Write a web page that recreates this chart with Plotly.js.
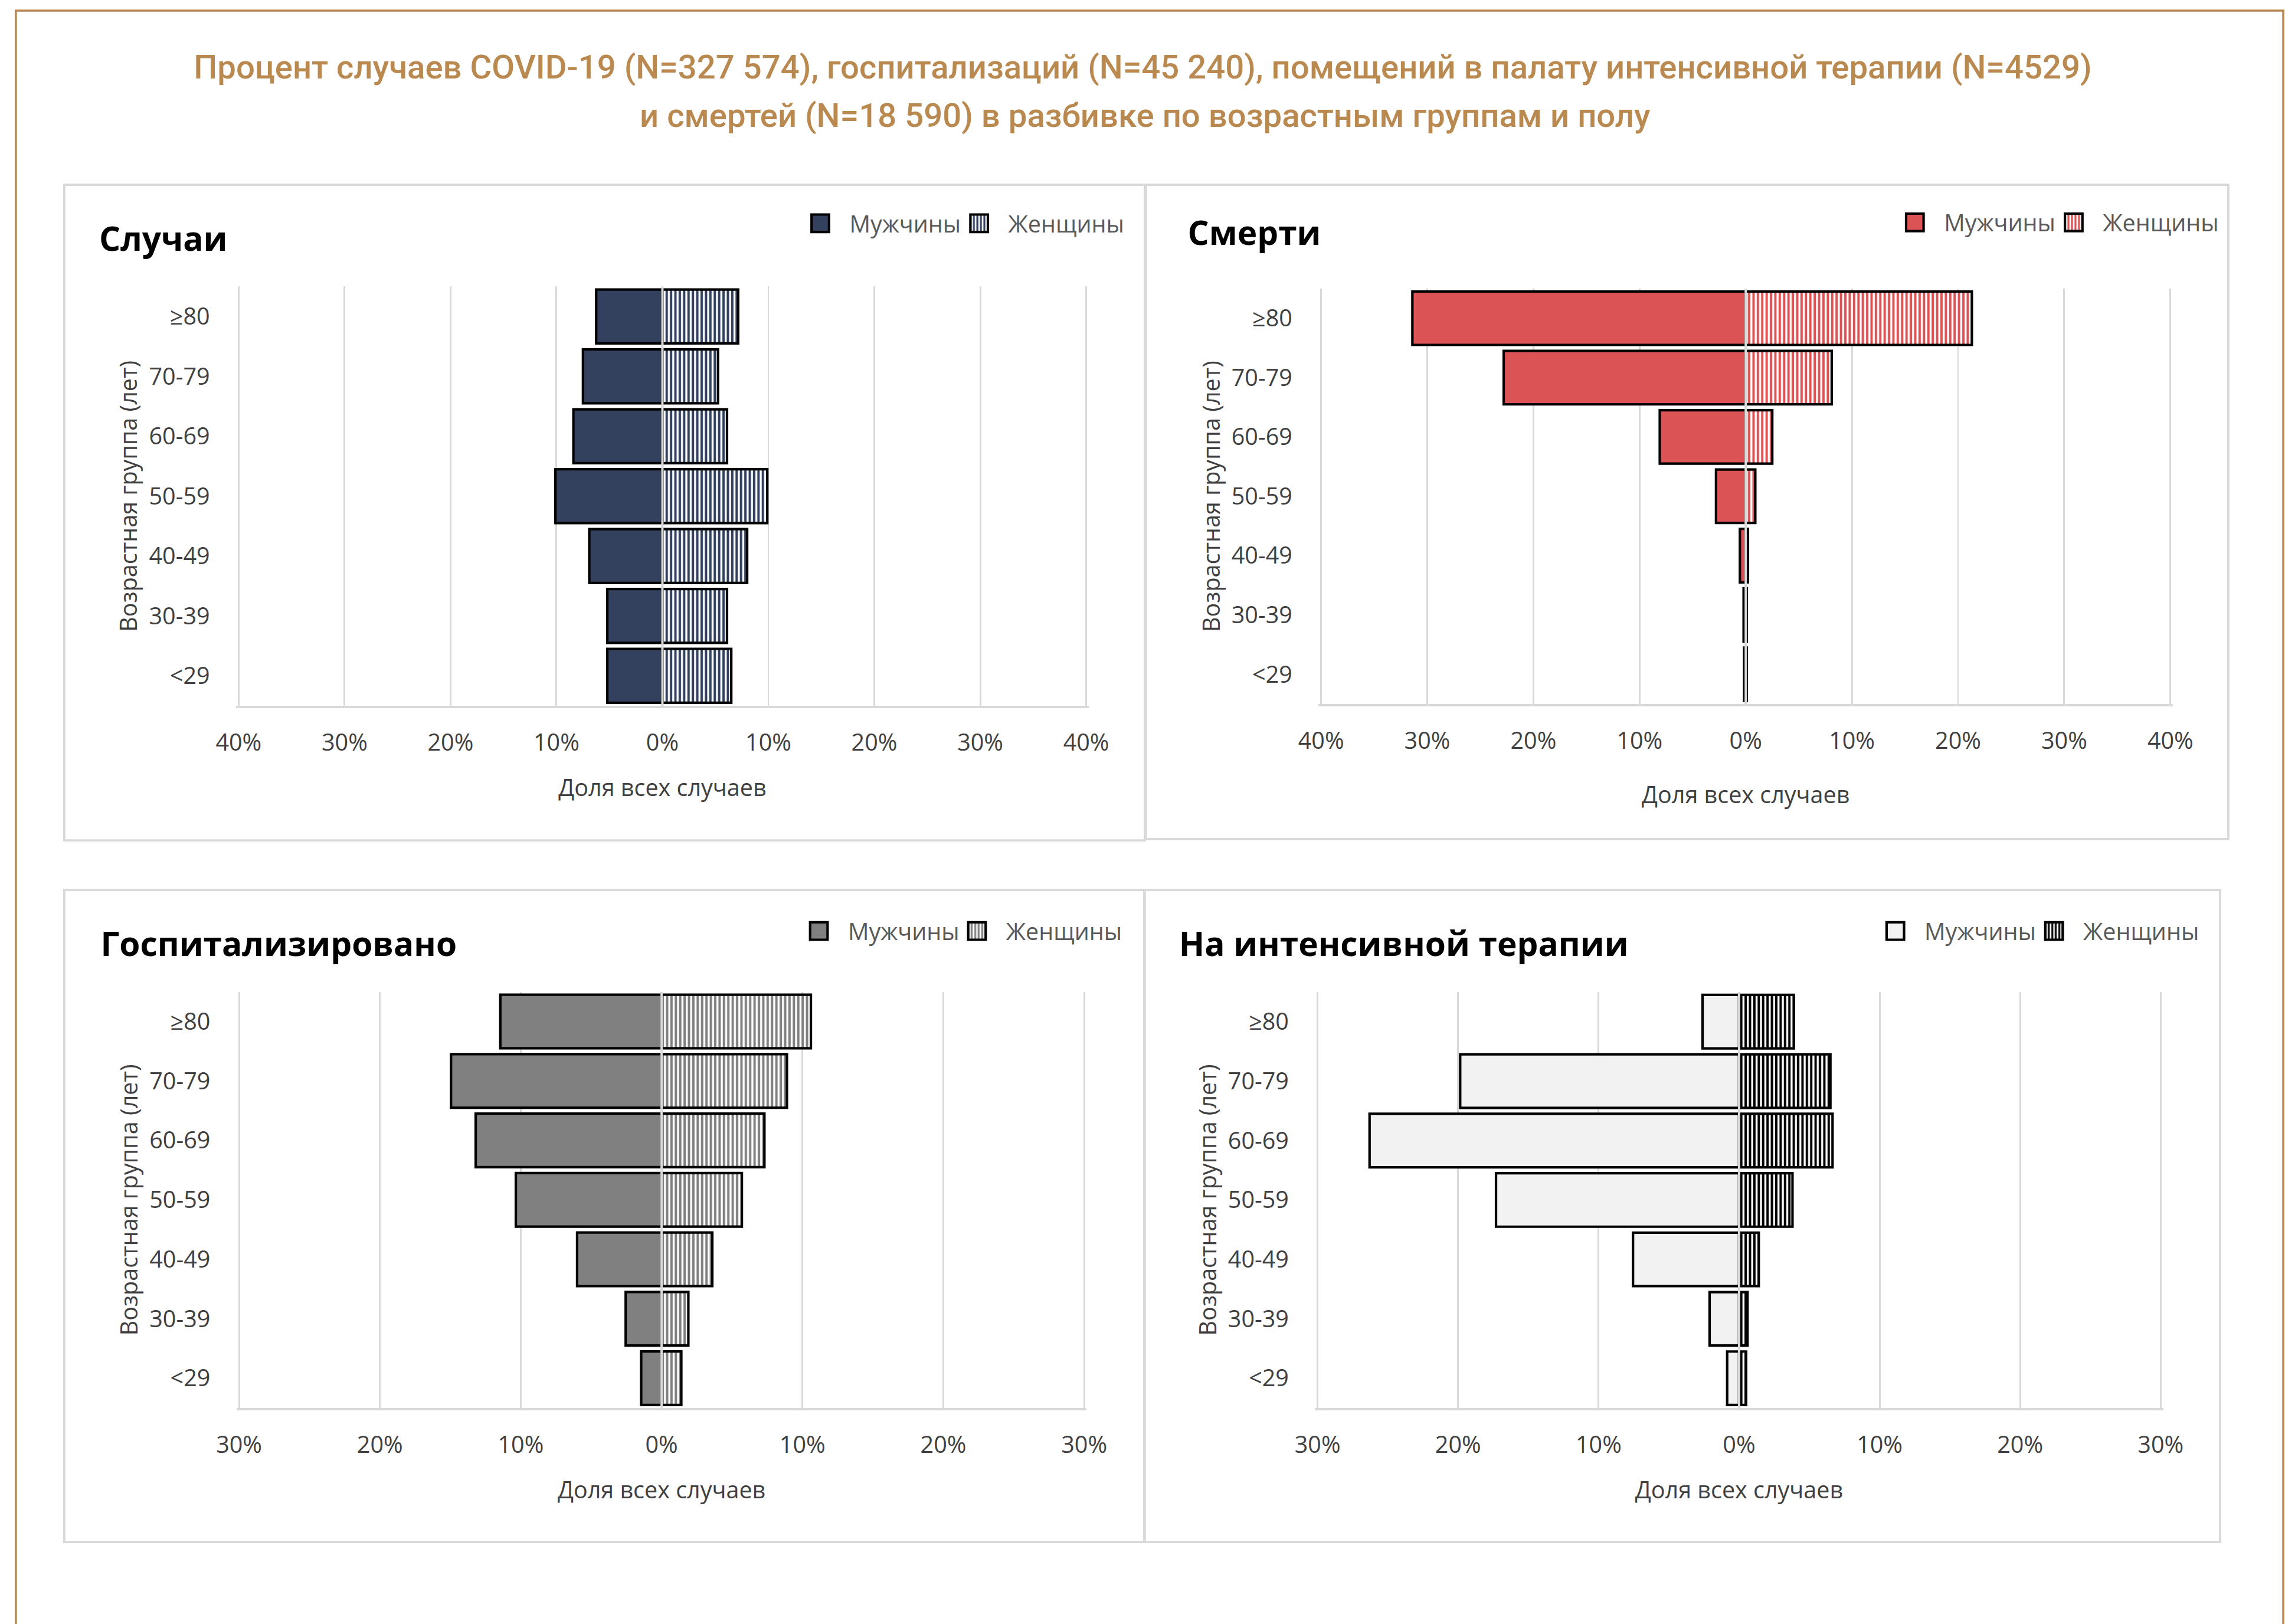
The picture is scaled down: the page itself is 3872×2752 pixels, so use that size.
<!DOCTYPE html>
<html>
<head>
<meta charset="utf-8">
<script src="https://cdn.plot.ly/plotly-3.0.1.min.js"></script>
<style>
  html, body { margin: 0; padding: 0; background: #ffffff; overflow: hidden; }
  #wrap { width: 3872px; height: 2752px; overflow: hidden; position: relative; }
  #chart { width: 1568px; height: 1115px; transform: scale(2.469388); transform-origin: 0 0; }
</style>
</head>
<body>
<div id="wrap"><div id="chart"></div></div>
<script>
// ---------- data (percent of all cases in each outcome) ----------
const ageGroups = ['<29', '30-39', '40-49', '50-59', '60-69', '70-79', '≥80'];

const casesMen     = [5.2, 5.2, 6.9, 10.1, 8.4, 7.5, 6.25];
const casesWomen   = [6.5, 6.1, 8.0, 9.9, 6.1, 5.25, 7.15];

const deathsMen    = [0.15, 0.2, 0.55, 2.8, 8.1, 22.8, 31.4];
const deathsWomen  = [0.1, 0.1, 0.2, 0.9, 2.5, 8.1, 21.3];

const hospMen      = [1.45, 2.55, 6.0, 10.35, 13.2, 14.95, 11.45];
const hospWomen    = [1.4, 1.9, 3.6, 5.7, 7.3, 8.9, 10.6];

const icuMen       = [0.85, 2.1, 7.55, 17.3, 26.3, 19.85, 2.6];
const icuWomen     = [0.5, 0.6, 1.4, 3.8, 6.65, 6.5, 3.9];

const ticks40 = [-40, -30, -20, -10, 0, 10, 20, 30, 40];
const ticks30 = [-30, -20, -10, 0, 10, 20, 30];
const tickText = v => Math.abs(v) + '%';

const mainTitle1 = 'Процент случаев COVID-19 (N=327 574), госпитализаций (N=45 240), помещений в палату интенсивной терапии (N=4529)';
const mainTitle2 = 'и смертей (N=18 590) в разбивке по возрастным группам и полу';
const panelTitles = ['Случаи', 'Смерти', 'Госпитализировано', 'На интенсивной терапии'];
const menLabel = 'Мужчины';
const womenLabel = 'Женщины';
const xTitle = 'Доля всех случаев';
const yTitle = 'Возрастная группа (лет)';

// ---------- layout geometry (logical px, 1568 x 1115) ----------
const W = 1568, H = 1115;
const px = v => v / W;
const py = v => 1 - v / H;

const panels = [
  { men: casesMen,  women: casesWomen,  mc: '#33415E', wc: '#33415E', ticks: ticks40,
    plot: [162.0, 747.1, 196.6, 484.3], box: [44.1, 785.6, 126.8, 576.7],
    title: [65.6, 163.0], legendX: [542.9, 651.9], legendY: 153.3, xStandoff: 16 },
  { men: deathsMen, women: deathsWomen, mc: '#DC5355', wc: '#DC5355', ticks: ticks40,
    plot: [904.8, 1491.1, 198.0, 483.1], box: [786.4, 1529.1, 126.8, 575.8],
    title: [813.3, 158.7], legendX: [1294, 1403], legendY: 152.7, xStandoff: 22 },
  { men: hospMen,   women: hospWomen,   mc: '#808080', wc: '#808080', ticks: ticks30,
    plot: [162.3, 745.7, 680.6, 966.2], box: [44.1, 785.6, 610.7, 1058.2],
    title: [67.2, 647.0], legendX: [541.9, 650.4], legendY: 639.0, xStandoff: 16 },
  { men: icuMen,    women: icuWomen,    mc: '#F2F2F2', wc: '#000000', ticks: ticks30,
    plot: [902.4, 1484.4, 680.7, 966.2], box: [785.2, 1523.4, 610.7, 1058.2],
    title: [807.3, 647.0], legendX: [1280.6, 1389.5], legendY: 639.0, xStandoff: 16 }
];

const tickFont = { family: 'Open Sans, sans-serif', size: 16, color: '#404040' };
const titleFont = { family: 'Open Sans, sans-serif', size: 16, color: '#404040' };
const legendFont = { family: 'Open Sans, sans-serif', size: 16, color: '#595959' };

const traces = [];
const layout = {
  width: W, height: H,
  margin: { l: 0, r: 0, t: 0, b: 0, autoexpand: false },
  paper_bgcolor: '#ffffff', plot_bgcolor: '#ffffff',
  barmode: 'relative', bargap: 0.1,
  hovermode: false, showlegend: true,
  shapes: [], annotations: []
};

// outer frame
layout.shapes.push({ type: 'rect', xref: 'paper', yref: 'paper',
  x0: px(10.9), x1: px(1566.8), y0: py(1125), y1: py(7.3),
  line: { color: '#B8864E', width: 1.4 }, fillcolor: 'rgba(0,0,0,0)', layer: 'below' });

// main title (two lines)
const mainFont = { family: 'Roboto, sans-serif', size: 22.8, color: '#B98950', weight: 500 };
layout.annotations.push({ text: mainTitle1, xref: 'paper', yref: 'paper', x: px(784), y: py(47),
  xanchor: 'center', yanchor: 'middle', showarrow: false, font: mainFont });
layout.annotations.push({ text: mainTitle2, xref: 'paper', yref: 'paper', x: px(786), y: py(80),
  xanchor: 'center', yanchor: 'middle', showarrow: false, font: mainFont });

const legendId = k => 'legend' + (k === 1 ? '' : k);

panels.forEach((p, i) => {
  const n = i + 1;
  const xa = 'xaxis' + (n === 1 ? '' : n), ya = 'yaxis' + (n === 1 ? '' : n);
  const xr = 'x' + (n === 1 ? '' : n), yr = 'y' + (n === 1 ? '' : n);
  const lgMen = legendId(2 * i + 1), lgWomen = legendId(2 * i + 2);
  const lim = p.ticks[p.ticks.length - 1];
  const pad = lim * 0.006; // keeps the outer gridlines inside the plot area

  traces.push({
    type: 'bar', orientation: 'h', name: menLabel, showlegend: true,
    y: ageGroups, x: p.men.map(v => -v),
    xaxis: xr, yaxis: yr, legend: lgMen,
    marker: { color: p.mc, line: { color: '#000000', width: 1.7 } }
  });
  traces.push({
    type: 'bar', orientation: 'h', name: womenLabel, showlegend: true,
    y: ageGroups, x: p.women,
    xaxis: xr, yaxis: yr, legend: lgWomen,
    marker: { color: p.wc, line: { color: '#000000', width: 1.7 },
      pattern: { shape: '|', fgcolor: p.wc, bgcolor: '#ffffff', size: 3, solidity: 0.55, fillmode: 'replace' } }
  });

  layout[xa] = {
    domain: [px(p.plot[0]), px(p.plot[1])], anchor: yr,
    range: [-lim - pad, lim + pad], fixedrange: true,
    tickvals: p.ticks, ticktext: p.ticks.map(tickText),
    showgrid: true, gridcolor: '#D9D9D9', gridwidth: 1.2,
    zeroline: false, showline: true, linecolor: '#D9D9D9', linewidth: 1.5,
    ticks: '', ticklabelstandoff: 10, tickfont: tickFont,
    title: { text: xTitle, font: titleFont, standoff: p.xStandoff }, automargin: true
  };
  layout[ya] = {
    domain: [py(p.plot[3]), py(p.plot[2])], anchor: xr,
    type: 'category', categoryorder: 'array', categoryarray: ageGroups,
    fixedrange: true, showgrid: false, zeroline: false, showline: false,
    ticks: '', ticklabelstandoff: 17, tickfont: tickFont,
    title: { text: yTitle, font: titleFont, standoff: 3 }, automargin: true
  };

  [[lgMen, p.legendX[0]], [lgWomen, p.legendX[1]]].forEach(([id, lx]) => {
    layout[id] = {
      x: px(lx), y: py(p.legendY), xanchor: 'left', yanchor: 'middle',
      orientation: 'h', bgcolor: 'rgba(0,0,0,0)', borderwidth: 0, visible: true,
      font: legendFont, itemclick: false, itemdoubleclick: false
    };
  });

  // panel box
  layout.shapes.push({ type: 'rect', xref: 'paper', yref: 'paper',
    x0: px(p.box[0]), x1: px(p.box[1]), y0: py(p.box[3]), y1: py(p.box[2]),
    line: { color: '#D9D9D9', width: 1.5 }, fillcolor: 'rgba(0,0,0,0)', layer: 'below' });

  // vertical axis line at 0, drawn over the bars
  layout.shapes.push({ type: 'line', xref: xr, yref: yr + ' domain',
    x0: 0, x1: 0, y0: 0, y1: 1, line: { color: '#D9D9D9', width: 1.6 }, layer: 'above' });

  // panel title
  layout.annotations.push({ text: '<b>' + panelTitles[i] + '</b>', xref: 'paper', yref: 'paper',
    x: px(p.title[0]), y: py(p.title[1]), xanchor: 'left', yanchor: 'middle', showarrow: false,
    font: { family: 'Open Sans, sans-serif', size: 23, color: '#000000' } });
});

Plotly.newPlot('chart', traces, layout, { displayModeBar: false, staticPlot: true });
</script>
</body>
</html>
